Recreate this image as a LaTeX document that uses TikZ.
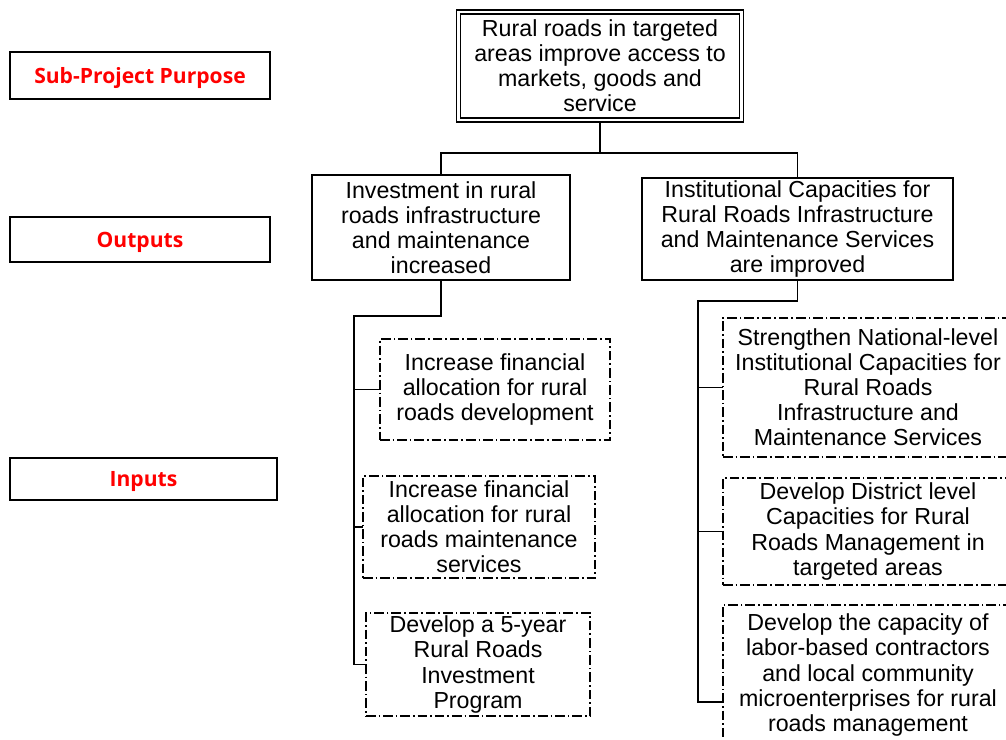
\documentclass[tikz,border=0pt]{standalone}
\usepackage{fontspec}
\setmainfont{Liberation Sans}
\newfontfamily\labelfont{Open Sans}
\tikzset{
  box/.style={draw, line width=1pt, inner sep=0pt, outer sep=0pt, align=center, font=\fontsize{16.5}{17.8}\selectfont},
  labelbox/.style={draw, line width=1.2pt, inner sep=0pt, outer sep=0pt, text=red, text depth=0pt, font=\labelfont\bfseries\fontsize{15}{16}\selectfont},
  inbox/.style={box, line width=1.4pt, dash pattern=on 0.24cm off 0.075cm on 0.04cm off 0.075cm},
  link/.style={line width=1pt},
}
\begin{document}
\begin{tikzpicture}[x=0.025cm, y=-0.025cm]
\useasboundingbox (0,0) rectangle (1006,740);
\clip (0,0) rectangle (1006,740);
\node[labelbox, minimum width=6.5cm, minimum height=1.175cm] (purpose) at (140,75.5) {Sub-Project Purpose};
\node[labelbox, minimum width=6.5cm, minimum height=1.125cm] (outputs) at (140,239.5) {Outputs};
\node[labelbox, minimum width=6.675cm, minimum height=1.05cm] (inputs) at (143.5,479) {Inputs};

\node[box, minimum width=6.975cm, minimum height=2.6cm] (goal) at (600,66) {Rural roads in targeted\\areas improve access to\\markets, goods and\\service};
\draw[line width=1pt] ([xshift=-0.1cm,yshift=-0.1cm]goal.south west) rectangle ([xshift=0.1cm,yshift=0.1cm]goal.north east);
\node[box, minimum width=6.45cm, minimum height=2.625cm] (out1) at (441,227.5) {Investment in rural\\roads infrastructure\\and maintenance\\increased};
\node[box, minimum width=7.775cm, minimum height=2.55cm] (out2) at (797.5,229) {Institutional Capacities for\\Rural Roads Infrastructure\\and Maintenance Services\\are improved};

\node[inbox, minimum width=5.75cm, minimum height=2.525cm] (inA) at (495,389.5) {Increase financial\\allocation for rural\\roads development};
\node[inbox, minimum width=5.8cm, minimum height=2.55cm] (inB) at (479,527) {Increase financial\\allocation for rural\\roads maintenance\\services};
\node[inbox, minimum width=5.6cm, minimum height=2.575cm] (inC) at (478,664.5) {Develop a 5-year\\Rural Roads\\Investment\\Program};
\node[inbox, minimum width=7.25cm, minimum height=3.475cm] (inD) at (868,387.5) {Strengthen National-level\\Institutional Capacities for\\Rural Roads\\Infrastructure and\\Maintenance Services};
\node[inbox, minimum width=7.25cm, minimum height=2.675cm] (inE) at (868,531.5) {Develop District level\\Capacities for Rural\\Roads Management in\\targeted areas};
\node[inbox, minimum width=7.25cm, minimum height=3.5cm] (inF) at (868,675) {Develop the capacity of\\labor-based contractors\\and local community\\microenterprises for rural\\roads management};

\coordinate (bus) at (600,153);
\coordinate (spineL) at (354,316);
\coordinate (spineR) at (698,301);
\coordinate (legF) at (698,702);
\draw[link] (goal.south) ++(0,4) -- (bus) -| (out1.north);
\draw[link] (bus) -| (out2.north);
\draw[link] (out1.south) |- (spineL) -- (spineL |- inC.west) -- (inC.west);
\draw[link] (spineL |- inA.west) -- (inA.west);
\draw[link] (spineL |- inB.west) -- (inB.west);
\draw[link] (out2.south) |- (spineR) -- (legF) -- (legF -| inF.west);
\draw[link] (spineR |- inD.west) -- (inD.west);
\draw[link] (spineR |- inE.west) -- (inE.west);
\end{tikzpicture}
\end{document}
